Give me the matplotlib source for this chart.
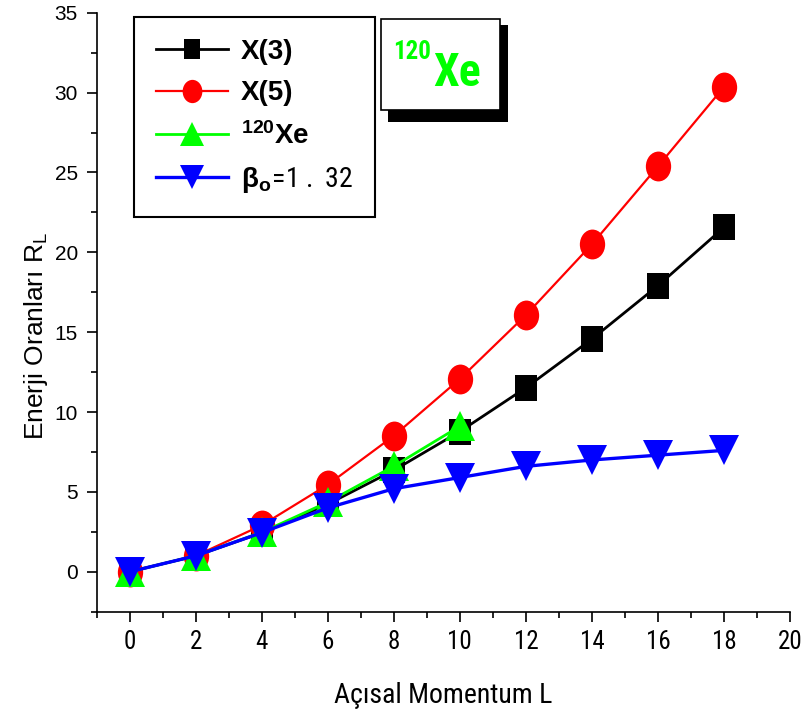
import numpy as np
import matplotlib
matplotlib.use("Agg")
import matplotlib.pyplot as plt
from matplotlib import font_manager
from matplotlib.path import Path
from matplotlib.transforms import Affine2D
from matplotlib.patches import Rectangle
from matplotlib.ticker import MultipleLocator

# ======================================================
# Data
# ======================================================

L_values = [0, 2, 4, 6, 8, 10, 12, 14, 16, 18]
L_xe = [0, 2, 4, 6, 8, 10]

r_x3 = [0, 1.0, 2.44, 4.23, 6.35, 8.78, 11.52, 14.57, 17.91, 21.56]
r_x5 = [0, 1.0, 2.91, 5.45, 8.51, 12.07, 16.07, 20.50, 25.38, 30.35]
r_xe120 = [0, 1.0, 2.47, 4.36, 6.61, 9.11]
r_beta = [0, 1.0, 2.45, 4.0, 5.2, 5.9, 6.6, 7.0, 7.3, 7.6]

labels = ["X(3)", "X(5)", r"$\mathregular{^{120}}$Xe",
          r"β$\mathregular{_o}\!\mathrm{=\!1\:.\:32}$"]

# ======================================================
# Setup
# ======================================================

# pick a narrow face if one is installed
installed = {f.name for f in font_manager.fontManager.ttflist}
NARROW = None
for name in ["Liberation Sans Narrow", "Arial Narrow", "Roboto Condensed",
             "Open Sans Condensed", "Noto Sans Condensed", "DejaVu Sans Condensed"]:
    if name in installed:
        NARROW = name
        break

plt.rcParams["font.family"] = ["Liberation Sans", "DejaVu Sans"]
plt.rcParams["mathtext.fontset"] = "custom"
plt.rcParams["mathtext.rm"] = NARROW if NARROW else "Liberation Sans"

W, H = 802, 716
fig = plt.figure(figsize=(W / 100, H / 100), dpi=100)

def fx(px):
    return px / W

def fy(py):
    return 1 - py / H

ax = fig.add_axes([fx(96.7), fy(611.7), fx(790) - fx(96.7), fy(12.7) - fy(611.7)])

# slightly tall markers (the original figure is stretched vertically)
stretch = Affine2D().scale(1.0, 1.18)
square = Path(stretch.transform(np.array([[-1, -1], [1, -1], [1, 1], [-1, 1], [-1, -1]], float)),
              [Path.MOVETO, Path.LINETO, Path.LINETO, Path.LINETO, Path.CLOSEPOLY])
circ = Path.unit_circle()
ellipse = Path(stretch.transform(circ.vertices), circ.codes)

ax.plot(L_values, r_x3, color="black", lw=2.0, marker=square, ms=18.5,
        mew=0, label=labels[0], zorder=3)
ax.plot(L_values, r_x5, color="red", lw=1.6, marker=ellipse, ms=21.5,
        mew=0, label=labels[1], zorder=4)
ax.plot(L_xe, r_xe120, color="#00ff00", lw=2.0, marker="^", ms=22,
        mew=0, label=labels[2], zorder=5)
ax.plot(L_values, r_beta, color="blue", lw=2.4, marker="v", ms=21.5,
        mew=0, label=labels[3], zorder=6)

ax.set_xlim(-1, 20)
ax.set_ylim(-2.5, 35)

ax.spines["top"].set_visible(False)
ax.spines["right"].set_visible(False)
for s in ("left", "bottom"):
    ax.spines[s].set_linewidth(1.2)

ax.xaxis.set_major_locator(MultipleLocator(2))
ax.xaxis.set_minor_locator(MultipleLocator(1))
ax.yaxis.set_major_locator(MultipleLocator(5))
ax.yaxis.set_minor_locator(MultipleLocator(2.5))
ax.tick_params(which="major", direction="out", length=7.5, width=1.2)
ax.tick_params(which="minor", direction="out", length=4.5, width=1.2)
ax.tick_params(axis="y", labelsize=15, pad=6)
if NARROW:
    ax.tick_params(axis="x", labelsize=18, pad=6)
    for t in ax.get_xticklabels():
        t.set_family([NARROW, "Liberation Sans"])
    xlab_font = {"family": [NARROW, "Liberation Sans"], "fontsize": 20}
else:
    ax.tick_params(axis="x", labelsize=15.5, pad=7)
    xlab_font = {"fontsize": 17.5}

ax.set_xlabel("Açısal Momentum L", **xlab_font)
ax.xaxis.set_label_coords(0.5, -0.118)
ax.set_ylabel(r"Enerji Oranları R$\mathregular{_L}$", fontsize=19)
ax.yaxis.set_label_coords(-0.068, 0.46)

leg = ax.legend(loc="upper left", bbox_to_anchor=(fx(134), fy(17)),
                bbox_transform=fig.transFigure, borderaxespad=0,
                fancybox=False, framealpha=1, edgecolor="black",
                prop={"weight": "bold", "size": 20}, markerscale=0.78,
                handlelength=2.6, handletextpad=0.45, labelspacing=0.55,
                borderpad=0.8)
leg.get_frame().set_linewidth(1.5)

# Nucleus label box with shadow
fig.patches.append(Rectangle((fx(388), fy(122)), fx(508) - fx(388), fy(25) - fy(122),
                             transform=fig.transFigure, facecolor="black",
                             edgecolor="none", zorder=10))
fig.patches.append(Rectangle((fx(381), fy(110)), fx(500) - fx(381), fy(19) - fy(110),
                             transform=fig.transFigure, facecolor="white",
                             edgecolor="black", lw=1.2, zorder=11))
box_family = [NARROW, "Liberation Sans"] if NARROW else ["Liberation Sans"]
xe_size = 33 if NARROW else 29
fig.text(fx(393), fy(59), "120", color="#00ff00", fontsize=18, weight="bold",
         family=box_family, zorder=12)
fig.text(fx(433), fy(86), "Xe", color="#00ff00", fontsize=xe_size, weight="bold",
         family=box_family, zorder=12)

fig.savefig("out.png", dpi=100)
